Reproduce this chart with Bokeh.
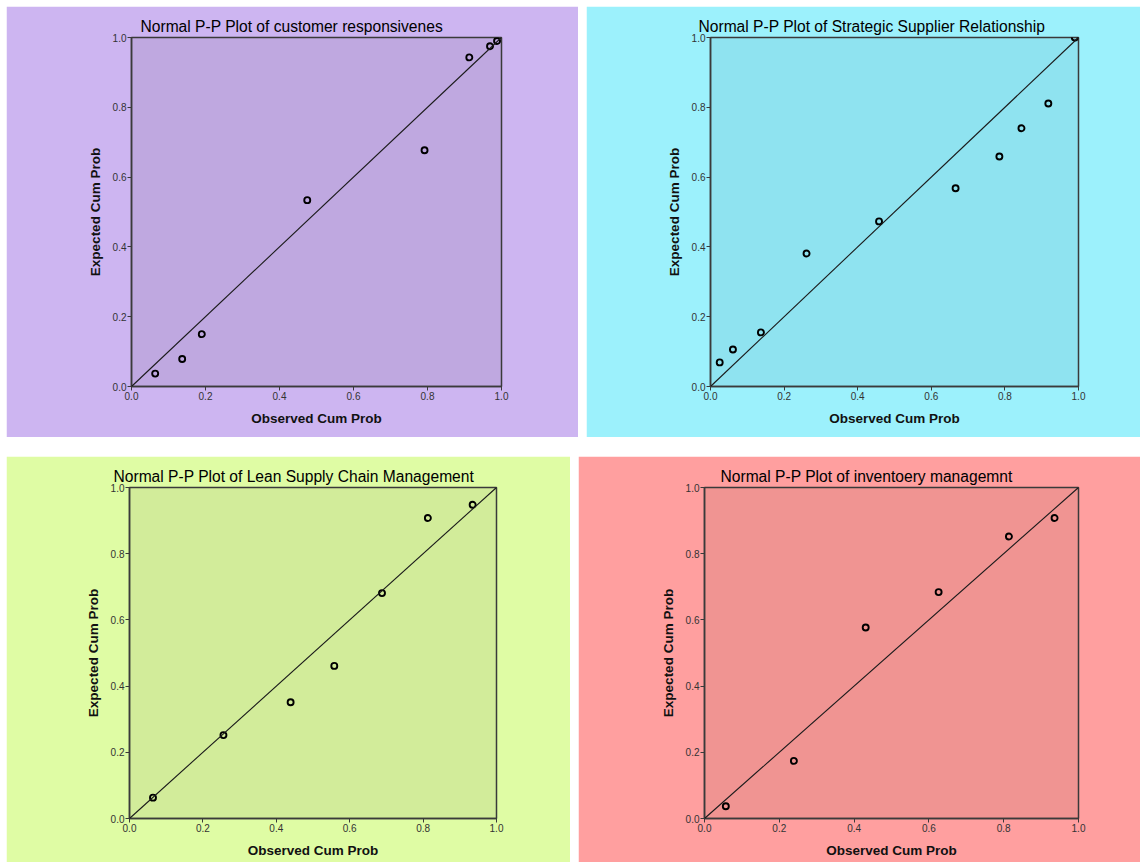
from bokeh.plotting import figure
from bokeh.layouts import row, column
from bokeh.models import Range1d, FixedTicker, NumeralTickFormatter, Slope, Title
from bokeh.embed import file_html
from bokeh.resources import INLINE

# ---------------- data ----------------
tick_values = [0.0, 0.2, 0.4, 0.6, 0.8, 1.0]

cr_title = "Normal P-P Plot of customer responsivenes"
cr_observed = [0.064, 0.137, 0.190, 0.475, 0.792, 0.913, 0.969, 0.988]
cr_expected = [0.037, 0.079, 0.150, 0.534, 0.677, 0.943, 0.975, 0.990]

ssr_title = "Normal P-P Plot of Strategic Supplier Relationship"
ssr_observed = [0.025, 0.061, 0.137, 0.261, 0.458, 0.666, 0.785, 0.845, 0.918, 0.990]
ssr_expected = [0.069, 0.106, 0.155, 0.381, 0.473, 0.568, 0.659, 0.740, 0.811, 1.000]

lscm_title = "Normal P-P Plot of Lean Supply Chain Management"
lscm_observed = [0.064, 0.256, 0.439, 0.558, 0.688, 0.813, 0.935]
lscm_expected = [0.063, 0.252, 0.351, 0.461, 0.681, 0.908, 0.948]

im_title = "Normal P-P Plot of inventoery managemnt"
im_observed = [0.057, 0.239, 0.431, 0.626, 0.814, 0.936]
im_expected = [0.037, 0.174, 0.577, 0.684, 0.852, 0.908]

x_label = "Observed Cum Prob"
y_label = "Expected Cum Prob"

FONT = "Liberation Sans"
FRAME = "#3a3a3a"


def make_panel(title, xs, ys, width, height, borders, panel_bg, plot_bg, title_offset):
    left, right, top, bottom = borders
    p = figure(width=width, height=height, output_backend="svg", toolbar_location=None,
               x_range=Range1d(0, 1), y_range=Range1d(0, 1),
               min_border_left=left, min_border_right=right,
               min_border_top=top, min_border_bottom=bottom)
    p.border_fill_color = panel_bg
    p.background_fill_color = plot_bg
    p.outline_line_color = FRAME
    p.outline_line_width = 1.5
    p.grid.visible = False

    t = Title(text=title, align="left", offset=title_offset,
              text_font=FONT, text_font_size="15.6px", text_font_style="normal",
              text_color="#000000", standoff=6)
    p.add_layout(t, "above")

    for ax in (p.xaxis[0], p.yaxis[0]):
        ax.ticker = FixedTicker(ticks=tick_values)
        ax.formatter = NumeralTickFormatter(format="0.0")
        ax.major_label_text_font = FONT
        ax.major_label_text_font_size = "10px"
        ax.major_label_text_color = "#333333"
        ax.major_label_standoff = 1
        ax.major_tick_out = 4
        ax.major_tick_in = 0
        ax.minor_tick_out = 0
        ax.minor_tick_in = 0
        ax.major_tick_line_color = FRAME
        ax.axis_line_color = FRAME
        ax.axis_line_width = 1.5
        ax.axis_label_text_font = FONT
        ax.axis_label_text_font_size = "13.5px"
        ax.axis_label_text_font_style = "bold"
        ax.axis_label_text_color = "#111111"
    p.xaxis[0].axis_label = x_label
    p.yaxis[0].axis_label = y_label
    p.xaxis[0].axis_label_standoff = 8
    p.yaxis[0].axis_label_standoff = 7

    p.add_layout(Slope(gradient=1, y_intercept=0, line_color="#1a1a1a", line_width=1.1))
    p.scatter(xs, ys, marker="circle", size=6, fill_color=None,
              line_color="#000000", line_width=1.9)
    return p


p1 = make_panel(cr_title, cr_observed, cr_expected, 572, 431, (125, 77, 31, 51),
                "#CDB5F1", "#BFA8E0", 9)
p2 = make_panel(ssr_title, ssr_observed, ssr_expected, 554, 431, (124, 62, 31, 51),
                "#9CF1FC", "#8FE3F0", -12)
p3 = make_panel(lscm_title, lscm_observed, lscm_expected, 564, 406, (123, 74, 31, 44),
                "#DFFCA4", "#D2EC9A", -16)
p4 = make_panel(im_title, im_observed, im_expected, 562, 406, (126, 62, 31, 44),
                "#FF9F9F", "#F09492", 16)

layout = column(row(p1, p2, spacing=8), row(p3, p4, spacing=8), spacing=19,
                margin=(6, 0, 0, 6))

open("out.html", "w").write(file_html(layout, INLINE))
